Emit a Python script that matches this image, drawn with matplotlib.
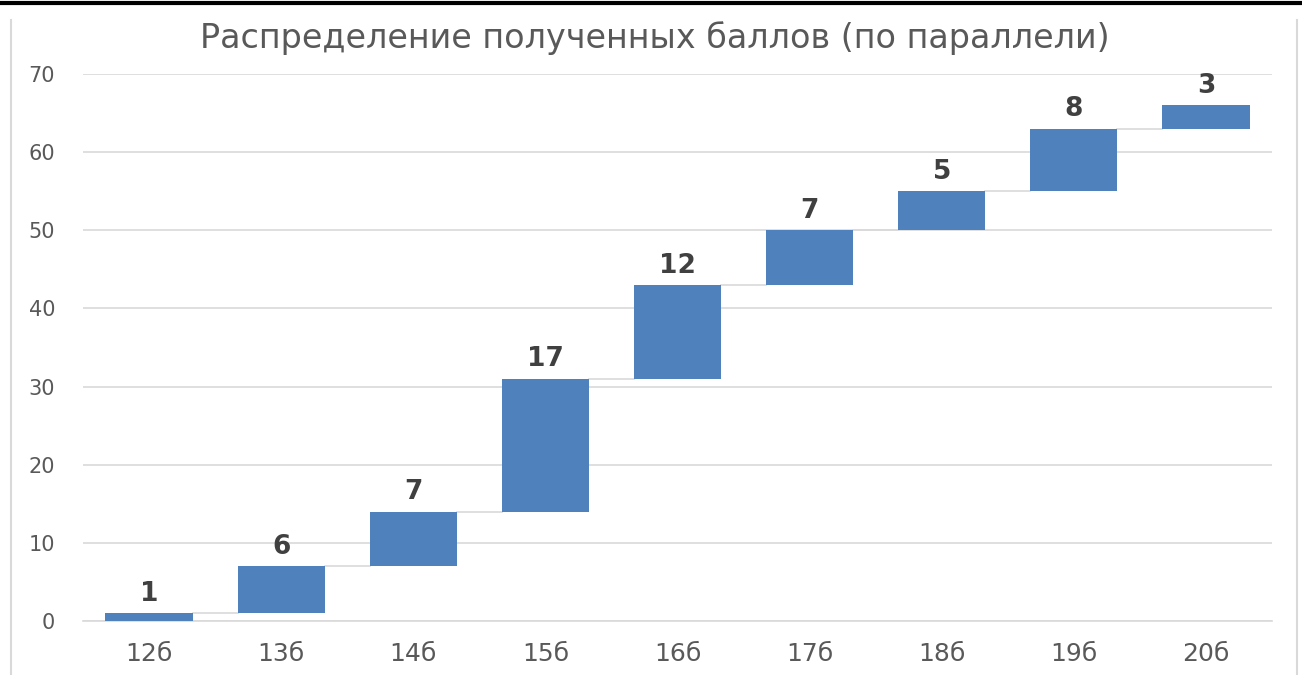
import matplotlib.pyplot as plt
from matplotlib.lines import Line2D

categories = ['12б', '13б', '14б', '15б', '16б', '17б', '18б', '19б', '20б']
values = [1, 6, 7, 17, 12, 7, 5, 8, 3]
title = 'Распределение полученных баллов (по параллели)'

BAR_COLOR = '#4f81bd'
GRID_COLOR = '#d9d9d9'
TEXT_COLOR = '#595959'
WIDTH = 0.66

tops = []
total = 0
for v in values:
    total += v
    tops.append(total)
bottoms = [t - v for t, v in zip(tops, values)]

fig = plt.figure(figsize=(13.02, 6.75), dpi=100)
ax = fig.add_axes([0.0637, 0.08, 0.9133, 0.8104])

x = list(range(len(categories)))
ax.bar(x, values, bottom=bottoms, width=WIDTH, color=BAR_COLOR, zorder=3)

# connectors between bar tops
for i in range(len(x) - 1):
    ax.plot([x[i] + WIDTH / 2, x[i + 1] - WIDTH / 2], [tops[i], tops[i]],
            color=GRID_COLOR, linewidth=1.2, zorder=2)

for xi, t, v in zip(x, tops, values):
    ax.text(xi, t + 0.8, str(v), ha='center', va='bottom', fontsize=19,
            fontweight='bold', color='#404040')

ax.set_xlim(-0.5, len(categories) - 0.5)
ax.set_ylim(0, 70)
ax.set_yticks(range(0, 71, 10))
ax.set_xticks(x)
ax.set_xticklabels(categories)
ax.tick_params(axis='both', length=0, colors=TEXT_COLOR)
ax.tick_params(axis='x', pad=15, labelsize=18)
ax.tick_params(axis='y', pad=20, labelsize=15)
ax.grid(axis='y', color=GRID_COLOR, linewidth=1.2, zorder=0)
for s in ['top', 'right', 'left']:
    ax.spines[s].set_visible(False)
ax.spines['bottom'].set_color(GRID_COLOR)
ax.spines['bottom'].set_linewidth(1.2)

fig.text(0.503, 0.943, title, ha='center', va='center', fontsize=24, color=TEXT_COLOR)

# frame lines around the screenshot
fig.add_artist(Line2D([0, 1], [0.995, 0.995], color='black', linewidth=3))
fig.add_artist(Line2D([0.0085, 0.0085], [0, 0.97], color='#d9d9d9', linewidth=1.5))
fig.add_artist(Line2D([0.996, 0.996], [0, 0.97], color='#d9d9d9', linewidth=1.5))

fig.savefig('out.png', dpi=100)
